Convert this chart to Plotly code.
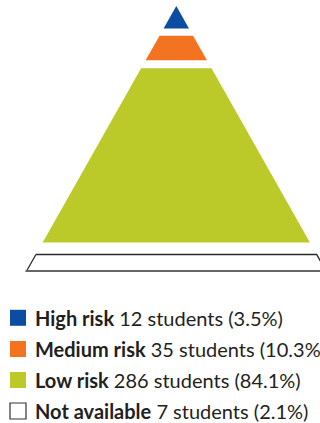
import plotly.graph_objects as go

# Risk categories and student counts
categories = ["High risk", "Medium risk", "Low risk", "Not available"]
students = [12, 35, 286, 7]
colors = ["#0B4DA2", "#F47321", "#BBCA28", "#FFFFFF"]

total = sum(students)
shares = [100.0 * n / total for n in students]

# Canvas and pyramid geometry (pixel units)
W, H = 320, 423
APEX_X, APEX_Y = 176.3, 6.0
SLOPE = 0.565  # half-width gained per pixel of depth
BANDS = [(6.0, 28.5), (35.7, 60.3), (68.3, 242.5), (254.5, 271.0)]

# Legend rows
ROW_Y = [317.8, 349.0, 380.0, 411.0]
SWATCH_X = 18.0
TEXT_X = 32.5
FONT = "Lato"
INK = "#231F20"


def band_polygon(top, bottom):
    ht = (top - APEX_Y) * SLOPE
    hb = (bottom - APEX_Y) * SLOPE
    xs = [APEX_X - ht, APEX_X + ht, APEX_X + hb, APEX_X - hb, APEX_X - ht]
    ys = [top, top, bottom, bottom, top]
    return xs, ys


fig = go.Figure()

for i, (cat, col, (top, bottom)) in enumerate(zip(categories, colors, BANDS)):
    xs, ys = band_polygon(top, bottom)
    outlined = col.upper() == "#FFFFFF"
    fig.add_trace(go.Scatter(
        x=xs, y=ys, mode="lines", fill="toself", fillcolor=col,
        line=dict(color="#2A2A2A" if outlined else col, width=1.3 if outlined else 0),
        hoverinfo="skip", showlegend=False, name=cat,
    ))
    if outlined:
        # heavier grey base line under the open band
        fig.add_trace(go.Scatter(
            x=[xs[3] - 1, xs[2] + 4], y=[bottom, bottom], mode="lines",
            line=dict(color="#666666", width=2.2), hoverinfo="skip", showlegend=False,
        ))

# Legend swatches
fig.add_trace(go.Scatter(
    x=[SWATCH_X] * len(categories), y=ROW_Y, mode="markers",
    marker=dict(symbol="square", size=16, color=colors,
                line=dict(color=["rgba(0,0,0,0)"] * 3 + ["#333333"], width=1.2)),
    hoverinfo="skip", showlegend=False,
))

for cat, n, pct, y in zip(categories, students, shares, ROW_Y):
    fig.add_annotation(
        x=TEXT_X, y=y, xref="x", yref="y", xanchor="left", yanchor="middle",
        text=f"<b>{cat}</b> {n} students ({pct:.1f}%)",
        showarrow=False, font=dict(family=FONT, size=20, color=INK),
    )

fig.update_layout(
    width=W, height=H, autosize=False,
    margin=dict(l=0, r=0, t=0, b=0),
    paper_bgcolor="white", plot_bgcolor="white",
    xaxis=dict(range=[0, W], visible=False, fixedrange=True),
    yaxis=dict(range=[H, 0], visible=False, fixedrange=True),
)

fig.write_html("out.html", config={"displayModeBar": False, "staticPlot": True})
